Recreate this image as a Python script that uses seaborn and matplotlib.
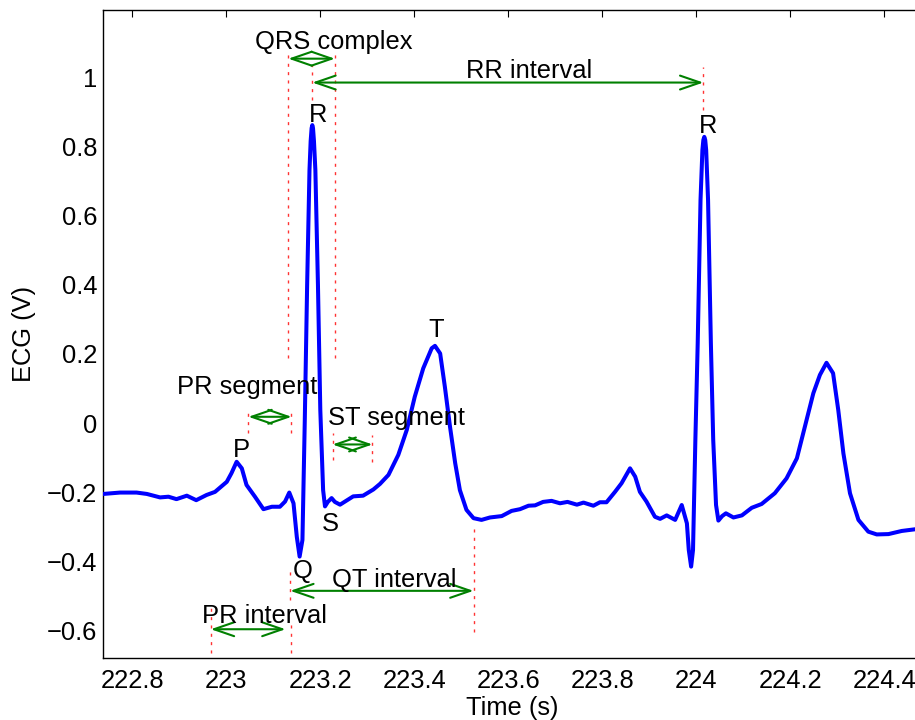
import matplotlib
matplotlib.use("Agg")
import matplotlib.pyplot as plt
import seaborn as sns
import pandas as pd
from matplotlib.patches import FancyArrowPatch

# ---------------- data ----------------
time_s = [222.738, 222.774, 222.809, 222.831, 222.859, 222.877, 222.894, 222.916, 222.936, 222.958,
          222.976, 223.001, 223.011, 223.022, 223.033, 223.043, 223.061, 223.079, 223.097, 223.114,
          223.125, 223.134, 223.143, 223.150, 223.156, 223.162, 223.167, 223.172, 223.177, 223.1795,
          223.1815, 223.183, 223.1845, 223.1865, 223.1895, 223.195, 223.200, 223.206, 223.210, 223.216,
          223.224, 223.231,
          223.242, 223.255, 223.270, 223.291, 223.313, 223.327, 223.345, 223.366, 223.384, 223.401,
          223.419, 223.437, 223.444, 223.455, 223.465, 223.476, 223.487, 223.497, 223.511, 223.526,
          223.543, 223.561, 223.586, 223.607, 223.625, 223.643, 223.657, 223.674, 223.692, 223.710,
          223.726, 223.746, 223.760, 223.781, 223.795, 223.809, 223.827, 223.841, 223.859, 223.870,
          223.880, 223.894, 223.912, 223.923, 223.937, 223.955, 223.969, 223.980, 223.984, 223.989,
          223.993, 223.998, 224.003, 224.009, 224.013, 224.015, 224.017, 224.019, 224.021, 224.025,
          224.031, 224.036,
          224.042, 224.047, 224.055, 224.063, 224.079, 224.097, 224.118, 224.139, 224.167, 224.192,
          224.214, 224.231, 224.249, 224.263, 224.277, 224.291, 224.302, 224.313, 224.327, 224.345,
          224.366, 224.384, 224.409, 224.437, 224.465, 224.508]
ecg_v = [-0.205, -0.201, -0.201, -0.205, -0.215, -0.213, -0.220, -0.210, -0.223, -0.208,
         -0.199, -0.170, -0.145, -0.112, -0.131, -0.179, -0.213, -0.249, -0.242, -0.242,
         -0.227, -0.201, -0.232, -0.329, -0.386, -0.338, 0.009, 0.399, 0.731, 0.815,
         0.852, 0.861, 0.852, 0.815, 0.731, 0.399, 0.038, -0.194, -0.241, -0.228,
         -0.217, -0.228,
         -0.236, -0.225, -0.212, -0.210, -0.192, -0.176, -0.150, -0.092, -0.020, 0.076,
         0.158, 0.216, 0.223, 0.201, 0.105, -0.011, -0.116, -0.194, -0.251, -0.275,
         -0.280, -0.273, -0.269, -0.254, -0.249, -0.239, -0.238, -0.228, -0.225, -0.232,
         -0.228, -0.236, -0.230, -0.239, -0.229, -0.229, -0.199, -0.174, -0.131, -0.155,
         -0.199, -0.227, -0.271, -0.277, -0.267, -0.280, -0.237, -0.290, -0.367, -0.415,
         -0.367, -0.049, 0.231, 0.645, 0.789, 0.818, 0.827, 0.818, 0.789, 0.645,
         0.231, -0.049,
         -0.237, -0.282, -0.269, -0.261, -0.273, -0.267, -0.245, -0.234, -0.203, -0.160,
         -0.102, -0.011, 0.086, 0.139, 0.174, 0.144, 0.038, -0.088, -0.203, -0.280,
         -0.314, -0.322, -0.321, -0.312, -0.307, -0.303]

x_ticks = [222.8, 223.0, 223.2, 223.4, 223.6, 223.8, 224.0, 224.2, 224.4]
x_tick_labels = ["222.8", "223", "223.2", "223.4", "223.6", "223.8", "224", "224.2", "224.4"]
y_ticks = [-0.6, -0.4, -0.2, 0.0, 0.2, 0.4, 0.6, 0.8, 1.0]
y_tick_labels = ["\u22120.6", "\u22120.4", "\u22120.2", "0", "0.2", "0.4", "0.6", "0.8", "1"]

wave_labels = ["P", "Q", "R", "S", "T", "R"]
wave_label_t = [223.033, 223.163, 223.196, 223.222, 223.446, 224.026]
wave_label_v = [-0.097, -0.449, 0.871, -0.311, 0.249, 0.837]

interval_names = ["QRS complex", "RR interval", "PR segment", "ST segment", "QT interval", "PR interval"]
interval_start = [223.132, 223.183, 223.047, 223.226, 223.136, 222.967]
interval_end = [223.231, 224.015, 223.139, 223.311, 223.526, 223.126]
interval_level = [1.053, 0.984, 0.018, -0.062, -0.485, -0.596]
interval_text_t = [223.228, 223.644, 223.045, 223.361, 223.358, 223.082]
interval_text_v = [1.081, 0.996, 0.083, -0.006, -0.473, -0.579]

marker_t = [223.132, 223.231, 223.183, 224.015, 223.046, 223.138, 223.226, 223.311,
            223.136, 223.528, 222.967, 223.138]
marker_v_low = [0.188, 0.188, 0.934, 0.905, -0.030, -0.030, -0.107, -0.112,
                -0.512, -0.603, -0.666, -0.666]
marker_v_high = [1.072, 1.072, 1.035, 1.030, 0.044, 0.044, -0.028, -0.035,
                 -0.425, -0.295, -0.536, -0.579]

# ---------------- figure ----------------
sns.set_style("white")
plt.rcParams["font.family"] = ["Liberation Sans", "DejaVu Sans"]
FS = 18.4

W, H = 915, 720
fig = plt.figure(figsize=(W / 100, H / 100), dpi=100)
ax_left, ax_right, ax_top, ax_bottom = 103, 922, 10.3, 658.3
ax = fig.add_axes([ax_left / W, 1 - ax_bottom / H, (ax_right - ax_left) / W, (ax_bottom - ax_top) / H])

df = pd.DataFrame({"t": time_s, "v": ecg_v})

# red dotted guide lines
for t, v0, v1 in zip(marker_t, marker_v_low, marker_v_high):
    ax.plot([t, t], [v0, v1], color="red", lw=1.0, linestyle=(0, (2.2, 3.8)), alpha=0.8, zorder=2)

sns.lineplot(data=df, x="t", y="v", ax=ax, color="#0000ff", lw=2.9, estimator=None, sort=False, zorder=3)

# green double arrows
for a, b, lvl in zip(interval_start, interval_end, interval_level):
    arr = FancyArrowPatch((a, lvl), (b, lvl), arrowstyle="<->,head_length=1.45,head_width=0.5",
                          mutation_scale=10, color="#008000", lw=1.5, shrinkA=0, shrinkB=0, zorder=4)
    ax.add_patch(arr)

for name, t, v in zip(interval_names, interval_text_t, interval_text_v):
    ax.text(t, v, name, ha="center", va="baseline", fontsize=FS, color="black", zorder=5)

for name, t, v in zip(wave_labels, wave_label_t, wave_label_v):
    ax.text(t, v, name, ha="center", va="baseline", fontsize=FS, color="black", zorder=5)

ax.set_xlim(222.8 + (ax_left - 132.3) / 470, 222.8 + (ax_right - 132.3) / 470)
ax.set_ylim(-0.680, 1.1928)
ax.set_xticks(x_ticks)
ax.set_xticklabels(x_tick_labels)
ax.set_yticks(y_ticks)
ax.set_yticklabels(y_tick_labels)
ax.tick_params(axis="both", direction="in", length=5, width=0.8, top=True, right=True,
               labelsize=FS, colors="black")
ax.tick_params(axis="x", pad=8)
ax.tick_params(axis="y", pad=4)
for s in ax.spines.values():
    s.set_color("black")
    s.set_linewidth(1.0)
ax.set_xlabel("Time (s)", fontsize=FS, labelpad=2, color="black")
ax.set_ylabel("ECG (V)", fontsize=FS, labelpad=8, color="black")

fig.savefig("out.png", dpi=100)
